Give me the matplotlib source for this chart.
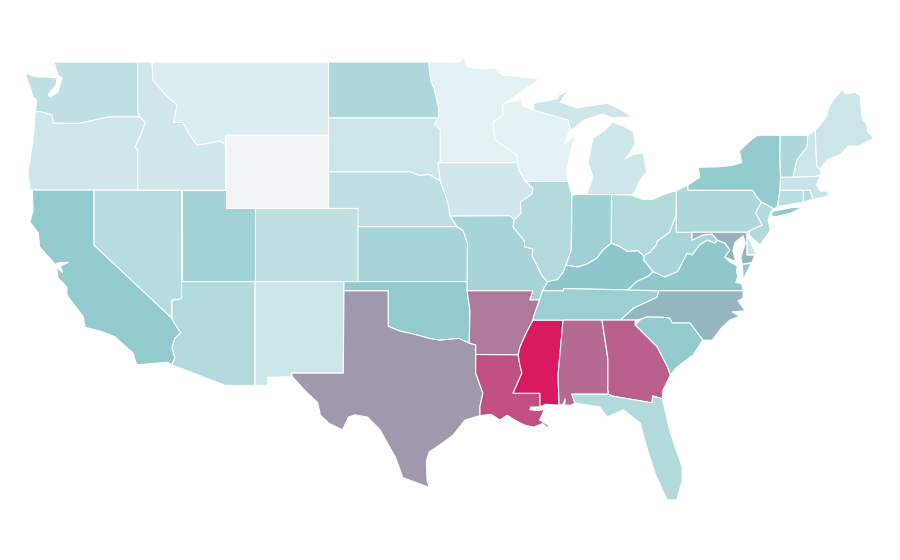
import numpy as np
import matplotlib
matplotlib.use("Agg")
import matplotlib.pyplot as plt
from matplotlib.collections import PolyCollection
from matplotlib.colors import LinearSegmentedColormap, Normalize

# Choropleth values (no data for Wyoming)
states = ["WA","OR","CA","NV","ID","MT","WY","UT","AZ","CO","NM","ND","SD","NE","KS","OK","TX",
          "MN","IA","MO","AR","LA","WI","IL","MS","MI","IN","KY","TN","AL","OH","WV","VA","NC",
          "SC","GA","FL","PA","NY","NJ","DE","MD","CT","RI","MA","VT","NH","ME"]
values = [17,10,37,21,10,5,np.nan,30,23,17,12,25,12,17,28,37,56,
          1,10,28,67,81,0,23,100,11,31,40,33,72,23,27,39,46,
          37,76,23,25,37,23,12,47,20,22,14,25,12,12]

# State outlines as (longitude, latitude)
shapes = {
"WA":[[(-122.73,49),(-117.03,49),(-117.03,46.4),(-116.92,46.0),(-119.05,46.0),(-121,45.65),(-122.1,45.65),(-122.8,45.67),(-122.86,46.1),(-123.68,46.3),(-124.0,46.27),(-123.9,46.92),(-124.15,47.1),(-124.36,47.63),(-124.7,48.4),(-124.0,48.2),(-123.2,48.18),(-122.5,48.13),(-122.6,47.74),(-123.13,47.2),(-123,47.09),(-122.45,47.36),(-122.18,48.13),(-122.45,48.29)]],
"OR":[[(-124.36,42),(-124.5,42.93),(-124.15,44.74),(-124.0,46.27),(-123.68,46.3),(-122.86,46.1),(-122.8,45.67),(-122.1,45.65),(-121,45.65),(-119.05,46.0),(-116.92,46.0),(-116.5,45.7),(-116.85,44.95),(-117.2,44.35),(-117.03,44.2),(-117.03,42)]],
"CA":[[(-124.2,42),(-120,42),(-120,39),(-114.7,35),(-114.5,34.7),(-114.1,34.2),(-114.5,33.9),(-114.7,33.4),(-114.5,32.85),(-114.7,32.45),(-115,32.6),(-117.1,32.45),(-117.35,33.1),(-118.6,34),(-119.6,34.3),(-120.6,34.5),(-120.75,35.1),(-121.85,36.27),(-121.85,36.7),(-122.45,37.2),(-122.55,37.8),(-122.15,37.5),(-122.3,37.85),(-121.75,38.05),(-122.3,38.05),(-122.65,37.95),(-123.7,38.9),(-123.8,39.65),(-124.36,40.26),(-124.15,40.9)]],
"NV":[[(-120,42),(-114.04,42),(-114.05,36.1),(-114.3,36),(-114.7,36),(-114.7,35),(-120,39)]],
"ID":[[(-117.03,49),(-116.05,49),(-116,48),(-115,47.1),(-114.35,46.65),(-114.6,45.7),(-113.95,45.7),(-113.45,44.95),(-113,44.47),(-112.3,44.55),(-111.45,44.7),(-111.05,44.48),(-111.05,42),(-117.03,42),(-117.03,44.2),(-117.2,44.35),(-116.85,44.95),(-116.5,45.7),(-116.92,46.0),(-117.03,46.4)]],
"MT":[[(-116.05,49),(-104.05,49),(-104.05,45),(-111.05,45),(-111.05,44.48),(-111.45,44.7),(-112.3,44.55),(-113,44.47),(-113.45,44.95),(-113.95,45.7),(-114.6,45.7),(-114.35,46.65),(-115,47.1),(-116,48)]],
"WY":[[(-111.05,45),(-104.05,45),(-104.05,41),(-111.05,41)]],
"UT":[[(-114.04,42),(-111.05,42),(-111.05,41),(-109.05,41),(-109.05,37),(-114.05,37)]],
"AZ":[[(-114.05,37),(-109.05,37),(-109.05,31.33),(-111.07,31.33),(-114.7,32.45),(-114.5,32.85),(-114.7,33.4),(-114.5,33.9),(-114.1,34.2),(-114.5,34.7),(-114.7,35),(-114.7,36),(-114.3,36),(-114.05,36.1)]],
"CO":[[(-109.05,41),(-102.05,41),(-102.05,37),(-109.05,37)]],
"NM":[[(-109.05,37),(-103,37),(-103.05,32),(-106.6,32),(-106.5,31.8),(-108.2,31.78),(-108.2,31.33),(-109.05,31.33)]],
"ND":[[(-104.05,49),(-97.23,49),(-97.1,48),(-96.85,47.5),(-96.55,46.5),(-96.56,45.94),(-104.05,45.94)]],
"SD":[[(-104.05,45.94),(-96.56,45.94),(-96.85,45.6),(-96.45,45.3),(-96.45,43.5),(-96.6,43.5),(-96.45,42.5),(-97.2,42.85),(-97.9,42.8),(-98.5,43),(-104.05,43)]],
"NE":[[(-104.05,43),(-98.5,43),(-97.9,42.8),(-97.2,42.85),(-96.45,42.5),(-96.1,41.7),(-95.9,41.2),(-95.77,40.58),(-95.3,40),(-102.05,40),(-102.05,41),(-104.05,41)]],
"KS":[[(-102.05,40),(-95.3,40),(-94.9,39.8),(-94.6,39.1),(-94.62,37),(-102.05,37)]],
"OK":[[(-103,37),(-94.62,37),(-94.62,36.5),(-94.43,35.4),(-94.48,33.64),(-95.2,33.9),(-96.5,33.8),(-97.2,33.9),(-98.1,34.1),(-99.2,34.3),(-100,34.56),(-100,36.5),(-103,36.5)]],
"TX":[[(-103,36.5),(-100,36.5),(-100,34.56),(-99.2,34.3),(-98.1,34.1),(-97.2,33.9),(-96.5,33.8),(-95.2,33.9),(-94.48,33.64),(-94.04,33.55),(-94.04,33.02),(-94.04,32),(-93.95,31.8),(-93.55,30.9),(-93.75,30.2),(-93.75,29.68),(-94.77,29.44),(-95.1,29.1),(-95.6,28.6),(-96.5,28.07),(-97.2,27.7),(-97.4,27.2),(-97.35,26.15),(-97.2,25.75),(-97.5,25.85),(-98.2,26.05),(-99,26.3),(-99.5,27.4),(-100.55,28.9),(-101.4,29.6),(-102.25,29.72),(-102.7,29.6),(-103.1,28.9),(-104,29.25),(-104.6,29.7),(-104.8,30.4),(-105.6,31.0),(-106.5,31.8),(-106.6,32),(-103.05,32)]],
"MN":[[(-97.23,49),(-95.15,49),(-94.9,49.38),(-94.63,48.73),(-93.55,48.62),(-92.73,48.67),(-92.25,48.29),(-90.82,48.18),(-89.67,48.07),(-90.82,47.45),(-92.05,46.75),(-92.2,46.65),(-92.2,46.1),(-92.86,45.72),(-92.73,44.74),(-91.23,43.92),(-91.2,43.5),(-96.45,43.5),(-96.45,45.3),(-96.85,45.6),(-96.56,45.94),(-96.55,46.5),(-96.85,47.5),(-97.1,48)]],
"IA":[[(-96.45,43.5),(-91.2,43.5),(-91.1,43.1),(-90.64,42.47),(-90.15,42.1),(-90.2,41.8),(-91,41.35),(-90.95,40.75),(-91.42,40.38),(-91.73,40.6),(-95.77,40.58),(-95.9,41.2),(-96.1,41.7),(-96.45,42.5),(-96.6,43.5)]],
"MO":[[(-95.77,40.58),(-91.73,40.6),(-91.42,40.38),(-91.5,40),(-90.75,39.25),(-90.7,38.9),(-90.15,38.8),(-90.2,38.4),(-89.5,37.3),(-89.15,37.0),(-89.5,36.5),(-89.7,36.0),(-90.37,36.0),(-90.15,36.5),(-94.62,36.5),(-94.62,37),(-94.6,39.1),(-94.9,39.8),(-95.3,40)]],
"AR":[[(-94.62,36.5),(-90.15,36.5),(-90.37,36.0),(-89.7,36.0),(-90.1,35.1),(-90.14,34.9),(-90.6,34.2),(-91.03,33.43),(-91.15,33.0),(-94.04,33.02),(-94.04,33.55),(-94.48,33.64),(-94.43,35.4)]],
"LA":[[(-94.04,33.02),(-91.15,33.0),(-91.05,32.5),(-90.9,32),(-91.5,30.9),(-89.67,30.9),(-89.67,30.15),(-90.3,30.15),(-90.35,30),(-89.75,29.95),(-89.4,30.05),(-89.5,29.75),(-89.7,29.45),(-89.1,29.15),(-89.1,29),(-89.5,29.25),(-90.1,29.05),(-90.7,29.16),(-91.3,29.4),(-91.9,29.7),(-92.4,29.44),(-93,29.75),(-93.75,29.68),(-93.75,30.2),(-93.55,30.9),(-93.95,31.8),(-94.04,32)]],
"WI":[[(-92.05,46.75),(-90.95,46.95),(-90.85,46.6),(-90.1,46.38),(-87.75,45.83),(-87.6,45.28),(-87.75,45.05),(-88.0,44.55),(-87.4,44.9),(-87.1,45.2),(-87.5,44.4),(-87.6,44.0),(-87.85,43.1),(-87.75,42.47),(-90.64,42.47),(-91.1,43.1),(-91.2,43.5),(-91.23,43.92),(-92.73,44.74),(-92.86,45.72),(-92.2,46.1),(-92.2,46.65)]],
"IL":[[(-90.64,42.47),(-87.75,42.47),(-87.5,41.72),(-87.53,39.35),(-87.55,38.7),(-87.9,37.9),(-88.1,37.5),(-88.5,37.1),(-89.15,37.0),(-89.5,37.3),(-90.2,38.4),(-90.15,38.8),(-90.7,38.9),(-90.75,39.25),(-91.5,40),(-91.42,40.38),(-90.95,40.75),(-91,41.35),(-90.2,41.8),(-90.15,42.1)]],
"MS":[[(-90.14,34.9),(-88.1,34.9),(-88.44,31.9),(-88.37,30.25),(-89.3,30.3),(-89.67,30.15),(-89.67,30.9),(-91.5,30.9),(-90.9,32),(-91.05,32.5),(-91.15,33),(-91.03,33.43),(-90.6,34.2)]],
"MI":[[(-90.1,46.38),(-87.75,45.83),(-87.6,45.28),(-87.3,45.4),(-86.7,45.83),(-85.4,46.15),(-84.7,45.95),(-83.4,46.0),(-84.1,46.38),(-85.1,46.75),(-87.15,46.5),(-88.3,46.8),(-88.0,47.15),(-87.75,47.4),(-88.4,47.2),(-88.5,47.0),(-90.12,46.74)],
      [(-86.5,41.76),(-84.8,41.76),(-83.45,41.73),(-83.2,41.9),(-82.9,42.5),(-82.4,43.0),(-82.65,44.03),(-83.3,43.95),(-83.9,43.7),(-83.5,44.1),(-83.2,44.57),(-83.33,45.2),(-84.0,45.5),(-84.77,45.72),(-85.1,45.4),(-85.25,45.28),(-86.06,44.85),(-86.27,44.03),(-86.4,43.5),(-86.06,42.72)]],
"IN":[[(-87.5,41.72),(-87.2,41.76),(-86.5,41.76),(-84.8,41.76),(-84.82,39.1),(-85.4,38.72),(-85.8,38.28),(-86.5,37.95),(-87.1,37.8),(-87.9,37.9),(-87.55,38.7),(-87.53,39.35)]],
"KY":[[(-89.5,36.5),(-88.07,36.5),(-88.07,36.62),(-83.68,36.55),(-83.1,37),(-82.3,37.3),(-81.97,37.54),(-82.6,38.17),(-82.6,38.4),(-83.0,38.7),(-83.7,38.65),(-84.3,38.95),(-84.82,39.1),(-85.4,38.72),(-85.8,38.28),(-86.5,37.95),(-87.1,37.8),(-87.9,37.9),(-88.1,37.5),(-88.5,37.1),(-89.15,37.0)]],
"TN":[[(-89.5,36.5),(-88.07,36.5),(-88.07,36.62),(-83.68,36.55),(-81.6,36.5),(-81.7,36.15),(-83.3,35.55),(-84.2,34.9),(-90.14,34.9),(-90.1,35.1),(-89.7,36.0)]],
"AL":[[(-88.1,34.9),(-85.45,34.9),(-85.05,32.8),(-85.05,32.33),(-85.05,31.55),(-85.05,31.08),(-85,30.85),(-87.5,30.85),(-87.3,30.37),(-87.55,30.25),(-88,30.25),(-87.95,30.6),(-88.1,30.3),(-88.37,30.25),(-88.44,31.9)]],
"OH":[[(-84.82,39.1),(-84.3,38.95),(-83.7,38.65),(-83,38.7),(-82.6,38.4),(-82.2,38.6),(-81.75,39),(-81.7,39.2),(-80.85,39.7),(-80.4,40.64),(-80.4,41.98),(-81.3,41.75),(-82.0,41.5),(-82.7,41.5),(-83.45,41.73),(-84.8,41.76)]],
"WV":[[(-81.97,37.54),(-81.2,37.25),(-80.3,37.55),(-79.65,38.55),(-79.33,38.45),(-78.8,39),(-78.3,39.27),(-77.75,39.1),(-77.62,39.27),(-77.97,39.6),(-78.58,39.55),(-79.33,39.27),(-79.33,39.7),(-80.4,39.7),(-80.4,40.64),(-80.85,39.7),(-81.7,39.2),(-81.75,39),(-82.2,38.6),(-82.6,38.4),(-82.6,38.17)]],
"VA":[[(-83.68,36.55),(-81.6,36.5),(-75.85,36.5),(-75.95,36.9),(-76.35,36.95),(-76.2,37.3),(-76.3,37.55),(-76.25,37.85),(-76.8,38.1),(-77.1,38.35),(-76.75,38.73),(-77.08,39.1),(-77.62,39.27),(-77.75,39.1),(-78.3,39.27),(-78.8,39),(-79.33,38.45),(-79.65,38.55),(-80.3,37.55),(-81.2,37.25),(-81.97,37.54),(-82.3,37.3),(-83.1,37)],
      [(-75.85,37.1),(-75.3,38.0),(-75.9,37.95)]],
"NC":[[(-84.2,34.9),(-83.2,34.9),(-82.8,34.95),(-82.4,35.07),(-81.3,35.05),(-80.85,35),(-80.68,34.74),(-79.46,34.74),(-78.6,33.8),(-77.95,33.8),(-77.3,34.5),(-76.75,34.9),(-76.1,35.1),(-76.6,35.35),(-75.7,35.4),(-76.2,35.95),(-75.85,36.1),(-75.85,36.5),(-81.6,36.5),(-81.7,36.15),(-83.3,35.55)]],
"SC":[[(-83.2,34.63),(-82.8,34.95),(-82.4,35.07),(-81.3,35.05),(-80.85,35),(-80.68,34.74),(-79.46,34.74),(-78.6,33.8),(-79.25,33),(-80.35,32.33),(-80.8,31.9),(-81,32.33),(-81.7,33.43)]],
"GA":[[(-85.45,34.9),(-83.2,34.9),(-83.2,34.63),(-81.7,33.43),(-81,32.33),(-80.8,31.9),(-81.3,31.08),(-81.35,30.6),(-82.0,30.75),(-82.05,30.38),(-84.8,30.75),(-85,30.85),(-85.05,31.08),(-85.05,31.55),(-85.05,32.33),(-85.05,32.8)]],
"FL":[[(-87.5,30.85),(-85,30.85),(-84.8,30.75),(-82.05,30.38),(-82,30.75),(-81.35,30.6),(-80.8,28.73),(-80,26.87),(-80,26.16),(-80.35,25.07),(-81.03,25.07),(-81.85,26.54),(-82.5,28.18),(-82.85,29.27),(-84,30),(-85.1,29.6),(-85.6,30.15),(-87.3,30.37)]],
"PA":[[(-80.4,41.98),(-79.6,42.28),(-79.6,42),(-75.2,42),(-74.9,41.6),(-74.6,41.35),(-75,40.75),(-74.55,40.1),(-75.6,39.7),(-80.4,39.7)]],
"NY":[[(-79.6,42.28),(-78.8,42.7),(-78.9,43.25),(-77.6,43.27),(-76.6,43.35),(-75.95,43.5),(-76.1,44.15),(-75.3,44.75),(-74.85,45),(-73.33,45),(-73.35,43.65),(-73.3,42.7),(-73.35,42.0),(-73.5,41.1),(-73.8,40.95),(-74,40.75),(-73.8,41),(-74.6,41.35),(-74.9,41.6),(-75.2,42),(-79.6,42)],
      [(-73.95,40.6),(-73.85,40.85),(-72.5,41.05),(-71.85,41.05),(-72.6,40.75),(-73.6,40.55)]],
"NJ":[[(-74.6,41.35),(-73.8,41),(-74.0,40.75),(-74.15,40.35),(-74.0,39.8),(-74.7,39),(-75.25,39.4),(-75.6,39.7),(-74.55,40.1),(-75,40.75)]],
"DE":[[(-75.6,39.7),(-75.4,39.75),(-75.5,39.4),(-74.95,38.5),(-75.6,38.45)]],
"MD":[[(-79.33,39.7),(-75.6,39.7),(-75.6,38.45),(-75.05,38.45),(-75.25,38.05),(-75.9,37.95),(-76.0,38.3),(-75.9,38.6),(-75.7,39.1),(-75.85,39.5),(-76.4,39.15),(-76.55,38.7),(-76.35,38.1),(-77.1,38.35),(-76.75,38.73),(-77.08,39.1),(-77.62,39.27),(-77.97,39.6),(-78.58,39.55),(-79.33,39.27)]],
"CT":[[(-73.35,42),(-71.75,42),(-71.75,41.35),(-73.5,41.1)]],
"RI":[[(-71.75,42),(-71.3,42),(-71.1,41.5),(-71.75,41.35)]],
"MA":[[(-73.35,42),(-73.3,42.7),(-72.45,42.72),(-70.95,42.75),(-70.6,42.8),(-70.85,42.3),(-70.6,41.95),(-70.1,41.95),(-70.05,41.7),(-70.5,41.6),(-71.1,41.5),(-71.3,42)]],
"VT":[[(-73.33,45),(-71.45,45),(-71.5,44.35),(-72.2,43.65),(-72.45,42.72),(-73.3,42.7),(-73.35,43.65)]],
"NH":[[(-71.45,45),(-71.3,45.1),(-70.95,45.3),(-70.85,43.3),(-70.6,43.15),(-70.6,42.8),(-70.95,42.75),(-72.45,42.72),(-72.2,43.65),(-71.5,44.35)]],
"ME":[[(-70.95,45.3),(-70.5,45.65),(-70.15,46.1),(-70.05,46.5),(-69.75,46.9),(-69.15,47.47),(-68.85,47.25),(-68.3,47.35),(-67.9,47.2),(-67.75,45.9),(-67.4,45.55),(-67.4,45.2),(-66.95,44.85),(-68.0,44.4),(-68.7,44.4),(-69.2,43.95),(-70.15,43.65),(-70.6,43.15),(-70.85,43.3)]],
}

cmap = LinearSegmentedColormap.from_list("rates", [(0, "#e5f2f5"), (0.4, "#8bc7cb"), (1, "#d91a60")])
cmap.set_bad("#f2f3f5")

verts, arr = [], []
for s, v in zip(states, values):
    for part in shapes[s]:
        verts.append(part)
        arr.append(v)

fig = plt.figure(figsize=(9, 5.6), dpi=100)
ax = fig.add_axes([0, 0, 1, 1])
pc = PolyCollection(verts, array=np.ma.masked_invalid(arr), cmap=cmap, norm=Normalize(0, 100),
                    edgecolors="white", linewidths=0.8)
ax.add_collection(pc)
ax.set_xlim(-126.4, -65.18)
ax.set_ylim(21.79, 52.39)
ax.axis("off")
fig.savefig("out.png", dpi=100, facecolor="white")
